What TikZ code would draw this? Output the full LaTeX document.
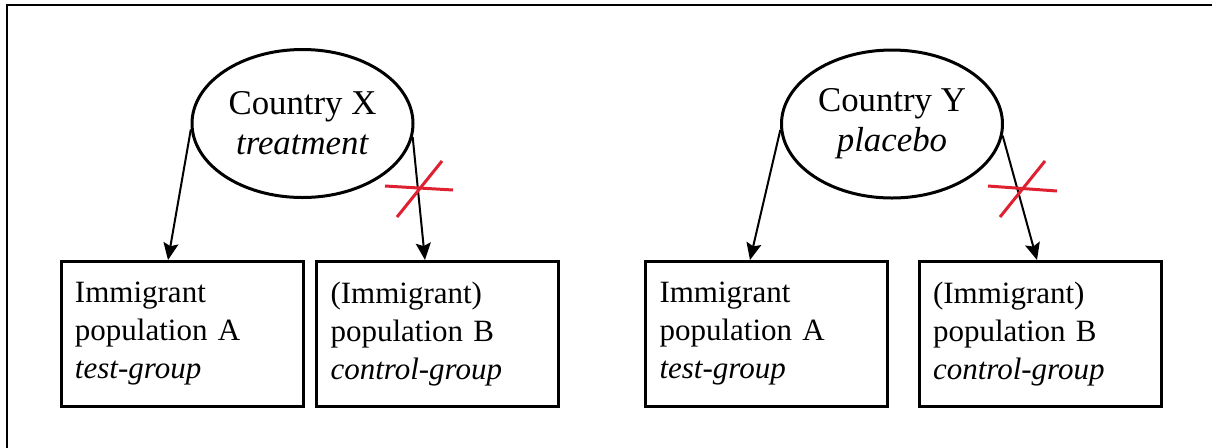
\documentclass[tikz,border=0pt]{standalone}
\usepackage{fontspec}
\setmainfont{Liberation Serif}
\definecolor{crossred}{RGB}{222,32,48}
\usetikzlibrary{shapes,arrows.meta,positioning,calc}

\begin{document}
\begin{tikzpicture}[x=0.5pt, y=-0.5pt,
    country/.style={ellipse, draw, line width=1.5pt, minimum width=110.5pt, minimum height=74pt, inner sep=0pt, align=center, font=\fontsize{17.4}{20}\selectfont},
    group/.style={rectangle, draw, line width=1.5pt, minimum width=121pt, minimum height=72.5pt, text width=107pt, inner xsep=7pt, align=left, font=\fontsize{15.5}{19}\selectfont},
    link/.style={-{Stealth[length=8.5pt, width=7.5pt, inset=1.5pt]}, line width=1pt},
    cut/.style={crossred, line width=1.5pt}
]
    \useasboundingbox (0,0) rectangle (1212,447);
    \draw[line width=1pt] (7,5) rectangle (1230,470);

    \node[country] (cx) at (302.5,123.5) {Country X\\\textit{treatment}};
    \node[country] (cy) at (892,124) {Country Y\\\textit{placebo}};

    \node[group] (pa1) at (182,334) {Immigrant\\population A\\\textit{test-group}};
    \node[group] (pb1) at (437.5,334) {(Immigrant)\\population B\\\textit{control-group}};
    \node[group] (pa2) at (766.5,334) {Immigrant\\population A\\\textit{test-group}};
    \node[group] (pb2) at (1040,334) {(Immigrant)\\population B\\\textit{control-group}};

    \draw[link] (cx.183) -- ([xshift=-7pt]pa1.north);
    \draw[link] (cx.353) -- ([xshift=-6.25pt]pb1.north);
    \draw[link] (cy.183) -- ([xshift=-8.25pt]pa2.north);
    \draw[link] (cy.354) -- ([xshift=-1.5pt]pb2.north);

    \draw[cut] (385,186) -- (453,190);
    \draw[cut] (397,217) -- (442,161);
    \draw[cut] (988,186) -- (1057,191);
    \draw[cut] (1000,217) -- (1045,161);
\end{tikzpicture}
\end{document}
